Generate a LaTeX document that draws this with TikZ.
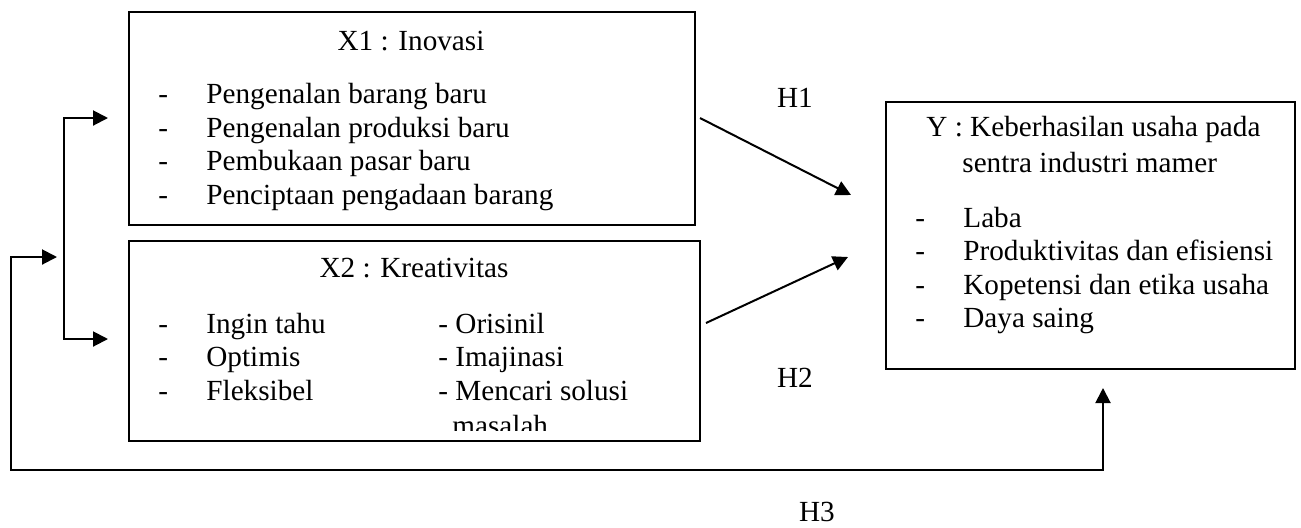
\documentclass[tikz,border=0pt]{standalone}
\usepackage{fontspec}
\setmainfont{Liberation Serif}
\usetikzlibrary{arrows.meta,fit}
\begin{document}
\begin{tikzpicture}[x=0.5pt,y=-0.5pt,
    box/.style={draw,line width=0.6pt,inner sep=0pt},
    teks/.style={anchor=base west,inner sep=0pt,font=\fontsize{14.6}{16}\selectfont},
    judul/.style={anchor=base,inner sep=0pt,font=\fontsize{14.6}{16}\selectfont},
    panah/.style={line width=1pt,-{Triangle[length=7.5pt,width=7.5pt]}},
    panahdua/.style={line width=1pt,{Triangle[length=7.5pt,width=7.5pt]}-{Triangle[length=7.5pt,width=7.5pt]}}]
\def\DASH{-}
	\useasboundingbox (0,0) rectangle (1301,527);
	\node[box,fit={(129,12) (695,225)}] (inovasi) {};
	\node[box,fit={(129,241) (700,441)}] (kreativitas) {};
	\node[box,fit={(886,102) (1295,369)}] (keberhasilan) {};
	\node[judul] (x1judul) at (411,50) {X1 : Inovasi};
	\node[teks] (x1a) at (158,103.5) {\DASH};
	\node[teks] (x1b) at (158,137) {\DASH};
	\node[teks] (x1c) at (158,170.5) {\DASH};
	\node[teks] (x1d) at (158,204) {\DASH};
	\node[teks] (x1ta) at (206,103.5) {Pengenalan barang baru};
	\node[teks] (x1tb) at (206,137) {Pengenalan produksi baru};
	\node[teks] (x1tc) at (206,170.5) {Pembukaan pasar baru};
	\node[teks] (x1td) at (206,204) {Penciptaan pengadaan barang};
	\node[judul] (x2judul) at (414,277) {X2 : Kreativitas};
	\node[teks] (x2a) at (158,333) {\DASH};
	\node[teks] (x2b) at (158,366.5) {\DASH};
	\node[teks] (x2c) at (158,400) {\DASH};
	\node[teks] (x2ta) at (206,333) {Ingin tahu};
	\node[teks] (x2tb) at (206,366.5) {Optimis};
	\node[teks] (x2tc) at (206,400) {Fleksibel};
	\node[teks] (x2ka) at (438,333) {- Orisinil};
	\node[teks] (x2kb) at (438,366.5) {- Imajinasi};
	\node[teks] (x2kc) at (438,400) {- Mencari solusi};
	\begin{scope}
	\clip (129,241) rectangle (700,430);
	\node[teks] (x2kd) at (452,435) {masalah};
	\end{scope}
	\node[teks] (yjudula) at (926,136) {Y : Keberhasilan usaha pada};
	\node[teks] (yjudulb) at (962,172.5) {sentra industri mamer};
	\node[teks] (ya) at (915,227) {\DASH};
	\node[teks] (yb) at (915,260.5) {\DASH};
	\node[teks] (yc) at (915,294) {\DASH};
	\node[teks] (yd) at (915,327.5) {\DASH};
	\node[teks] (yta) at (963,227) {Laba};
	\node[teks] (ytb) at (963,260.5) {Produktivitas dan efisiensi};
	\node[teks] (ytc) at (963,294) {Kopetensi dan etika usaha};
	\node[teks] (ytd) at (963,327.5) {Daya saing};
	\node[judul] (h1) at (795,107.5) {H1};
	\node[judul] (h2) at (795,387.5) {H2};
	\node[judul] (h3) at (817,521.5) {H3};
	\coordinate (h1awal) at (700,118);
	\coordinate (h1akhir) at (851,195);
	\coordinate (h2awal) at (706,323);
	\coordinate (h2akhir) at (848,257);
	\coordinate (cabanga) at (108,118);
	\coordinate (cabangb) at (108,339);
	\coordinate (masuk) at (57,257);
	\coordinate (tujuan) at (1103,388);
	\draw[panah] (h1awal) -- (h1akhir);
	\draw[panah] (h2awal) -- (h2akhir);
	\draw[panahdua] (cabanga) -- (64,118) -- (64,339) -- (cabangb);
	\draw[panahdua] (masuk) -- (11,257) -- (11,470) -| (tujuan);
\end{tikzpicture}
\end{document}
